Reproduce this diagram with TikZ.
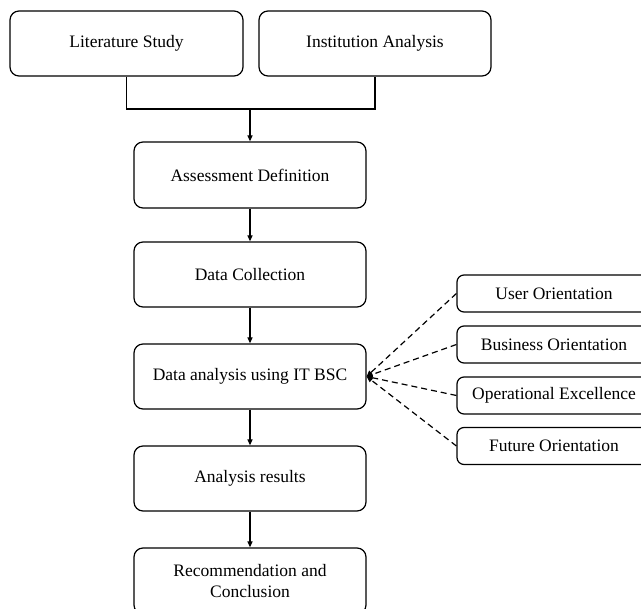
\documentclass[tikz,border=0pt]{standalone}
\usepackage{fontspec}
\setmainfont{Liberation Serif}
\usetikzlibrary{arrows.meta}
\begin{document}
\begin{tikzpicture}[x=1pt,y=-1pt,
  box/.style={draw, line width=1.2pt, rounded corners=9pt, minimum width=232pt, minimum height=65pt, align=center, inner sep=0pt, font=\fontsize{17.5}{21}\selectfont},
  sidebox/.style={draw, line width=1.2pt, rounded corners=7pt, minimum width=194pt, minimum height=36pt, inner sep=0pt, font=\fontsize{17.5}{21}\selectfont},
  arr/.style={line width=1.2pt, -{Triangle[length=6pt,width=5pt]}},
  conn/.style={line width=1.2pt},
  dashline/.style={line width=1.2pt, dash pattern=on 6pt off 4pt, -{Triangle[length=6pt,width=5pt]}}
]
\clip (0,0) rectangle (641,609);
\node[box, minimum width=233pt] (lit) at (126.5,43.5) {Literature Study};
\node[box] (inst) at (375,43.5) {Institution Analysis};
\node[box, minimum height=66pt] (assess) at (250,175) {Assessment Definition};
\node[box] (collect) at (250,274.5) {Data Collection};
\node[box] (analysis) at (250,376.5) {Data analysis using IT BSC};
\node[box] (results) at (250,478.5) {Analysis results};
\node[box, minimum height=66pt] (recom) at (250,581) {Recommendation and\\Conclusion};

\node[sidebox, minimum height=37pt] (user) at (554,293.5) {User Orientation};
\node[sidebox, minimum height=37pt] (business) at (554,344.5) {Business Orientation};
\node[sidebox, minimum height=37pt] (oper) at (554,395.5) {Operational Excellence};
\node[sidebox, minimum height=37pt] (future) at (554,446) {Future Orientation};

\coordinate (join) at (250,109);
\draw[conn] (lit.south) |- (join) -| (inst.south);
\draw[arr] (join) -- (assess.north);
\draw[arr] (assess) -- (collect);
\draw[arr] (collect) -- (analysis);
\draw[arr] (analysis) -- (results);
\draw[arr] (results) -- (recom);

\draw[dashline] (user.west) -- (analysis.east);
\draw[dashline] (business.west) -- (analysis.east);
\draw[dashline] (oper.west) -- (analysis.east);
\draw[dashline] (future.west) -- (analysis.east);
\end{tikzpicture}
\end{document}
